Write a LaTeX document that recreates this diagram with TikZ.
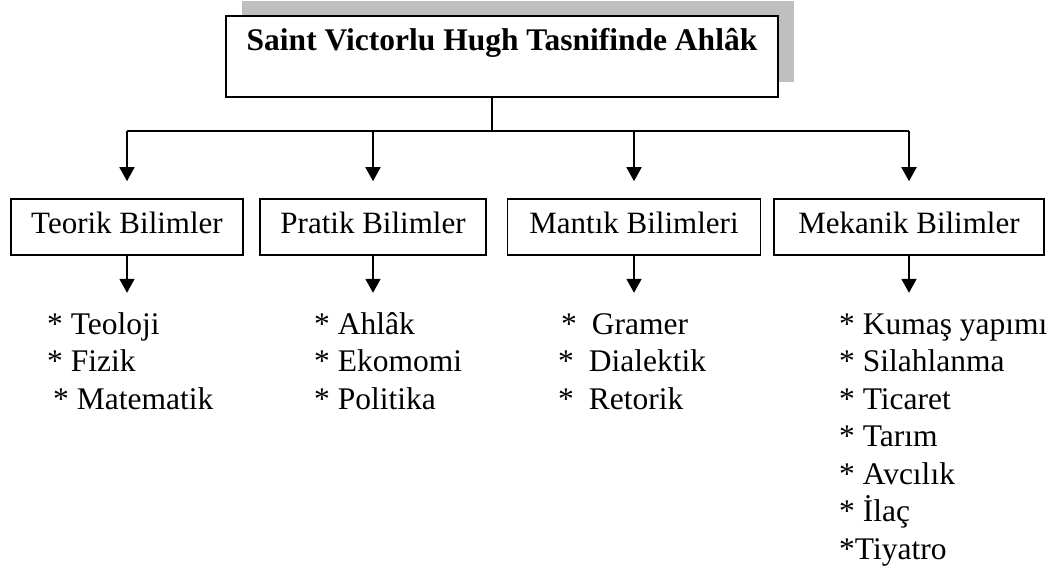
\documentclass[tikz,border=0pt]{standalone}
\usepackage{fontspec}
\setmainfont{Liberation Serif}
\usetikzlibrary{arrows.meta,shadows,calc}
\begin{document}
\begin{tikzpicture}[x=1pt,y=-1pt,
  frame/.style={draw, line width=1.6pt, fill=white, inner sep=0pt},
  titlebox/.style={frame, minimum width=552pt, text height=35pt, text depth=46pt,
    font=\fontsize{31.5}{36}\selectfont\bfseries,
    general shadow={fill=gray!50, shadow xshift=15.5pt, shadow yshift=14.5pt}},
  catbox/.style={frame, minimum height=56pt, text height=22pt, text depth=9pt,
    font=\fontsize{31}{36}\selectfont},
  item/.style={anchor=base west, inner sep=0pt, font=\fontsize{31.5}{36}\selectfont},
  conn/.style={line width=1.8pt},
  arrow/.style={conn, -{Triangle[width=15pt,length=14pt]}}
]
\useasboundingbox (0,0) rectangle (1048,569);

% title
\node[titlebox, anchor=base] (top) at (502,51) {Saint Victorlu Hugh Tasnifinde Ahlâk};

% categories
\node[catbox, minimum width=232pt] (teo) at (127,227) {Teorik Bilimler};
\node[catbox, minimum width=226pt] (pra) at (373,227) {Pratik Bilimler};
\node[catbox, minimum width=253pt] (man) at (634,227) {Mantık Bilimleri};
\node[catbox, minimum width=270pt] (mek) at (909,227) {Mekanik Bilimler};

% bus
\coordinate (bus) at (492,131);
\draw[conn] (bus |- top.south) -- (bus);
\draw[conn] (teo.north |- bus) -- (mek.north |- bus);
\foreach \n in {teo,pra,man,mek}{
  \draw[arrow, shorten >=17pt] (\n.north |- bus) -- (\n.north);
  \coordinate (\n end) at ($(\n.south)+(0,37)$);
  \draw[arrow] (\n.south) -- (\n end);
}

% lists
\node[item] (t1) at (47,334) {* Teoloji};
\node[item] (t2) at (47,371.5) {* Fizik};
\node[item] (t3) at (53,409) {* Matematik};

\node[item] (p1) at (314,334) {* Ahlâk};
\node[item] (p2) at (314,371.5) {* Ekomomi};
\node[item] (p3) at (314,409) {* Politika};

\node[item] (m1) at (561,334) {*\hspace{15pt}Gramer};
\node[item] (m2) at (558,371.5) {*\hspace{15pt}Dialektik};
\node[item] (m3) at (558,409) {*\hspace{15pt}Retorik};

\node[item] (k1) at (839,334) {* Kumaş yapımı};
\node[item] (k2) at (839,371.5) {* Silahlanma};
\node[item] (k3) at (839,409) {* Ticaret};
\node[item] (k4) at (839,446.5) {* Tarım};
\node[item] (k5) at (839,484) {* Avcılık};
\node[item] (k6) at (839,521.5) {* İlaç};
\node[item] (k7) at (839,559) {*Tiyatro};
\end{tikzpicture}
\end{document}
